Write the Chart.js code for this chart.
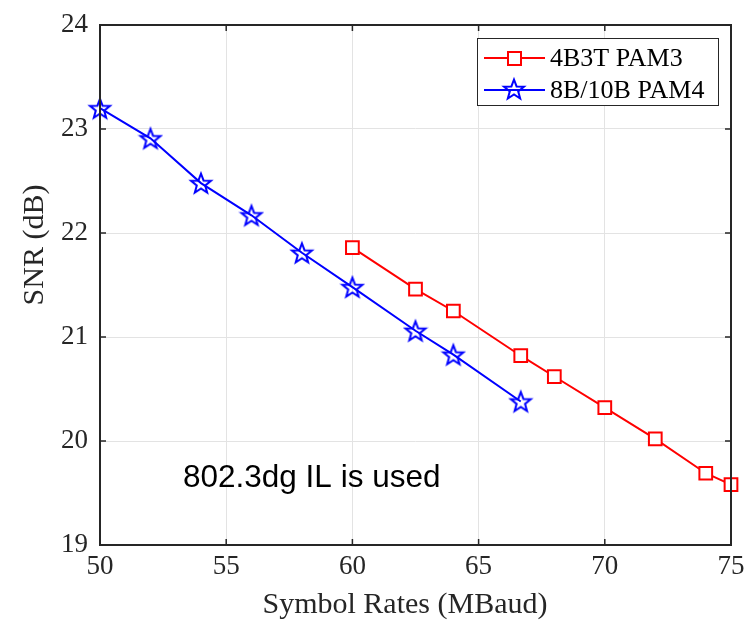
<!DOCTYPE html>
<html>
<head>
<meta charset="utf-8">
<script src="https://cdn.jsdelivr.net/npm/chart.js@4/dist/chart.umd.min.js"></script>
<style>
  html, body { margin: 0; padding: 0; background: #fff; }
  #wrap { width: 744px; height: 624px; }
</style>
</head>
<body>
<div id="wrap"><canvas id="c" width="744" height="624"></canvas></div>
<script>
// data
var ratesPam3 = [60, 62.5, 64, 66.67, 68, 70, 72, 74, 75];
var snrPam3 = [21.86, 21.46, 21.25, 20.82, 20.62, 20.32, 20.02, 19.69, 19.58];
var ratesPam4 = [50, 52, 54, 56, 58, 60, 62.5, 64, 66.67];
var snrPam4 = [23.2, 22.91, 22.48, 22.17, 21.81, 21.48, 21.06, 20.83, 20.38];
var xTicks = [50, 55, 60, 65, 70, 75];
var yTicks = [19, 20, 21, 22, 23, 24];
var labels = ["4B3T PAM3", "8B/10B PAM4"];
var xTitle = "Symbol Rates (MBaud)";
var yTitle = "SNR (dB)";
var note = "802.3dg IL is used";

var serif = "'Liberation Serif', 'Times New Roman', serif";
var axisColor = "#262626";

function toPoints(xs, ys) {
    return xs.map(function(x, i) { return {x: x, y: ys[i]}; });
}

// five pointed star marker, like matlab's 'p'
function starImage(color) {
    var s = 26;
    var cv = document.createElement("canvas");
    cv.width = s; cv.height = s;
    var g = cv.getContext("2d");
    var R = 10.5, r = 4.4;
    g.beginPath();
    for (var i = 0; i < 10; i++) {
        var rad = i % 2 === 0 ? R : r;
        var a = -Math.PI / 2 + i * Math.PI / 5;
        var px = s / 2 + rad * Math.cos(a), py = s / 2 + 1 + rad * Math.sin(a);
        if (i === 0) g.moveTo(px, py); else g.lineTo(px, py);
    }
    g.closePath();
    g.strokeStyle = color;
    g.lineWidth = 2;
    g.stroke();
    return cv;
}
var star = starImage("#0000ff");

var frame = {
    id: "frame",
    afterDraw: function(chart) {
        var ctx = chart.ctx, a = chart.chartArea;
        var xs = chart.scales.x, ys = chart.scales.y;
        ctx.save();
        ctx.strokeStyle = axisColor;
        ctx.lineWidth = 2;
        ctx.strokeRect(a.left, a.top, a.right - a.left, a.bottom - a.top);
        ctx.lineWidth = 1.5;
        ctx.beginPath();
        var t = 6;
        xTicks.forEach(function(v) {
            var px = xs.getPixelForValue(v);
            ctx.moveTo(px, a.bottom); ctx.lineTo(px, a.bottom - t);
            ctx.moveTo(px, a.top); ctx.lineTo(px, a.top + t);
        });
        yTicks.forEach(function(v) {
            var py = ys.getPixelForValue(v);
            ctx.moveTo(a.left, py); ctx.lineTo(a.left + t, py);
            ctx.moveTo(a.right, py); ctx.lineTo(a.right - t, py);
        });
        ctx.stroke();

        // axis titles
        ctx.fillStyle = axisColor;
        ctx.font = "30px " + serif;
        ctx.textAlign = "center";
        ctx.textBaseline = "middle";
        ctx.fillText(xTitle, 405, 605);
        ctx.save();
        ctx.translate(35, 245);
        ctx.rotate(-Math.PI / 2);
        ctx.fillText(yTitle, 0, 0);
        ctx.restore();

        // annotation
        ctx.fillStyle = "#000";
        ctx.font = "31.5px 'Liberation Sans', Arial, sans-serif";
        ctx.textBaseline = "alphabetic";
        ctx.textAlign = "left";
        ctx.fillText(note, 183, 487);

        // legend
        var lx = 477, ly = 38, lw = 241, lh = 67;
        ctx.fillStyle = "#fff";
        ctx.fillRect(lx, ly, lw, lh);
        ctx.strokeStyle = axisColor;
        ctx.lineWidth = 1;
        ctx.strokeRect(lx + 0.5, ly + 0.5, lw, lh);
        var rows = [58, 90];
        chart.data.datasets.forEach(function(ds, i) {
            var y = rows[i];
            ctx.strokeStyle = ds.borderColor;
            ctx.lineWidth = 2;
            ctx.beginPath();
            ctx.moveTo(484, y); ctx.lineTo(545, y);
            ctx.stroke();
            if (i === 0) {
                ctx.fillStyle = "#fff";
                ctx.fillRect(508, y - 6, 13, 13);
                ctx.strokeRect(508, y - 6, 13, 13);
            } else {
                ctx.drawImage(star, 514 - 13, y - 14);
            }
            ctx.fillStyle = "#000";
            ctx.font = "26px " + serif;
            ctx.textBaseline = "middle";
            ctx.fillText(ds.label, 550, y + 1);
        });
        ctx.restore();
    }
};

new Chart(document.getElementById("c"), {
    type: "scatter",
    data: {
        datasets: [{
            label: labels[0],
            data: toPoints(ratesPam3, snrPam3),
            showLine: true,
            borderColor: "#ff0000",
            borderWidth: 2,
            pointStyle: "rect",
            pointRadius: 9,
            pointBorderWidth: 2,
            pointBackgroundColor: "#ffffff",
            pointBorderColor: "#ff0000",
            clip: false
        }, {
            label: labels[1],
            data: toPoints(ratesPam4, snrPam4),
            showLine: true,
            borderColor: "#0000ff",
            borderWidth: 2,
            pointStyle: star,
            pointRadius: 11,
            clip: false
        }]
    },
    options: {
        responsive: false,
        animation: false,
        events: [],
        layout: { padding: { left: 0, right: 13, top: 25, bottom: 0 } },
        plugins: { legend: { display: false }, tooltip: { enabled: false } },
        scales: {
            x: {
                type: "linear",
                min: 50, max: 75,
                afterBuildTicks: function(s) { s.ticks = xTicks.map(function(v) { return {value: v}; }); },
                afterFit: function(s) { s.height = 79; s.paddingLeft = 0; s.paddingRight = 0; },
                grid: { color: "#e3e3e3", lineWidth: 1, drawTicks: false },
                border: { display: false },
                ticks: { color: "#262626", padding: 6, maxRotation: 0, font: { family: serif, size: 27 } }
            },
            y: {
                type: "linear",
                min: 19, max: 24,
                afterBuildTicks: function(s) { s.ticks = yTicks.map(function(v) { return {value: v}; }); },
                afterFit: function(s) { s.width = 100; s.paddingTop = 0; s.paddingBottom = 0; },
                grid: { color: "#e3e3e3", lineWidth: 1, drawTicks: false },
                border: { display: false },
                ticks: { color: "#262626", padding: 12, font: { family: serif, size: 27 } }
            }
        }
    },
    plugins: [frame]
});
</script>
</body>
</html>
